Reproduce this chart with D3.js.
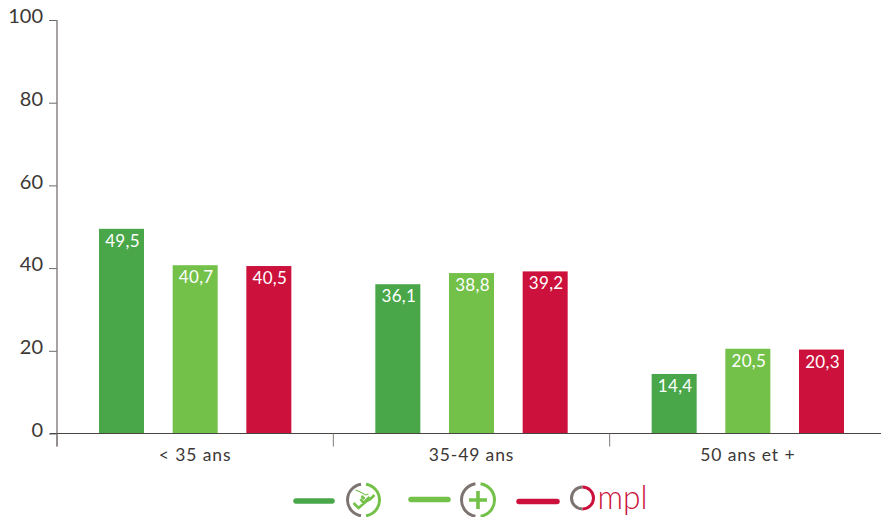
<!DOCTYPE html>
<html><head><meta charset="utf-8">
<script src="https://cdn.jsdelivr.net/npm/d3@7/dist/d3.min.js"></script>
<style>html,body{margin:0;background:#fff}svg{display:block}text{font-family:Lato,sans-serif}</style>
</head><body><svg id="c" width="881" height="517"></svg>
<script>
const categories = ["< 35 ans", "35-49 ans", "50 ans et +"];
const seriesNames = ["Fauteuil", "Plus", "Ompl"];
const seriesColors = ["#49a74a", "#74c14a", "#cc123c"];
const serie1 = [49.5, 36.1, 14.4];
const serie2 = [40.7, 38.8, 20.5];
const serie3 = [40.5, 39.2, 20.3];
const yTicks = [0, 20, 40, 60, 80, 100];
const allSeries = [serie1, serie2, serie3];

const svg = d3.select("#c");
const y = d3.scaleLinear().domain([0, 100]).range([433.5, 20]);
const x0 = d3.scaleBand().domain(categories).range([57, 886]);
const x1 = d3.scaleBand().domain(seriesNames).range([0, x0.step()]).paddingInner(0.389).paddingOuter(0.57);
const fmt = v => v.toFixed(1).replace(".", ",");

// bars
categories.forEach((c, i) => {
  const g = svg.append("g").attr("transform", `translate(${x0(c)},0)`);
  seriesNames.forEach((s, k) => {
    const v = allSeries[k][i];
    g.append("rect").attr("x", x1(s)).attr("y", y(v)).attr("width", x1.bandwidth())
      .attr("height", y(0) - y(v)).attr("fill", seriesColors[k]);
    g.append("text").attr("x", x1(s) + x1.bandwidth() / 2 + 1).attr("y", y(v) + 18)
      .attr("text-anchor", "middle").attr("fill", "#fff").attr("font-size", 17)
      .attr("letter-spacing", 0.3).text(fmt(v));
  });
});

// y axis
const yAxis = svg.append("g").attr("transform", "translate(57,0)")
  .call(d3.axisLeft(y).tickValues(yTicks).tickSize(8).tickPadding(6).tickFormat(d3.format("d")));
yAxis.select(".domain").remove();
yAxis.selectAll("line").attr("stroke", "#6f6a68").attr("stroke-width", 1);
yAxis.selectAll("text").attr("font-size", 20).attr("fill", "#3c3836").attr("dy", "0.14em").attr("font-family", "Lato");
yAxis.append("line").attr("y1", 20).attr("y2", 446.5).attr("stroke", "#807b79").attr("stroke-width", 1.4);

// x axis
const xAxisLine = svg.append("g");
xAxisLine.append("line").attr("x1", 50).attr("x2", 881).attr("y1", y(0)).attr("y2", y(0)).attr("stroke", "#4a4543").attr("stroke-width", 1.2);
categories.forEach(c => {
  xAxisLine.append("line").attr("x1", x0(c)).attr("x2", x0(c)).attr("y1", y(0)).attr("y2", 446.5)
    .attr("stroke", "#807b79").attr("stroke-width", 1);
  xAxisLine.append("text").attr("x", x0(c) + x0.bandwidth() / 2).attr("y", 461)
    .attr("text-anchor", "middle").attr("font-size", 17.5).attr("letter-spacing", 0.9).attr("fill", "#3c3836").text(c);
});

// legend
const legendY = [501, 499.5, 501.5];
const legendX = [[293, 335], [408, 451], [516, 560]];
seriesNames.forEach((s, k) => {
  svg.append("line").attr("x1", legendX[k][0] + 3).attr("x2", legendX[k][1] - 3)
    .attr("y1", legendY[k]).attr("y2", legendY[k]).attr("stroke", seriesColors[k])
    .attr("stroke-width", 5.5).attr("stroke-linecap", "round");
});
const arc = d3.arc();
function ring(cx, cy, r, w) {
  const g = svg.append("g").attr("transform", `translate(${cx},${cy})`);
  g.append("path").attr("fill", "#7d7370").attr("d", arc({innerRadius: r - w, outerRadius: r, startAngle: Math.PI * 1.05, endAngle: Math.PI * 1.95}));
  g.append("path").attr("fill", "#74c14a").attr("d", arc({innerRadius: r - w, outerRadius: r, startAngle: Math.PI * 0.05, endAngle: Math.PI * 0.95}));
  return g;
}
// icon 1 : armchair with a check
const g1 = ring(363.5, 500, 17.5, 3);
g1.append("path").attr("d", "M-10,3 L-5,8 L2,2 L7,-1 L11,-5 M-3,-1 L0,3 L3,0 L6,-3 M-2,-4 L1,-1")
  .attr("fill", "none").attr("stroke", "#74c14a").attr("stroke-width", 2.6);
g1.append("path").attr("d", "M-8,-10 L-3,-8 L2,-5 L5,-6")
  .attr("fill", "none").attr("stroke", "#74c14a").attr("stroke-width", 1.1);
// icon 2 : plus
const g2 = ring(478, 500, 18, 3);
g2.append("path").attr("d", "M-9,0 H9 M0,-9 V9").attr("stroke", "#74c14a").attr("stroke-width", 3.6).attr("fill", "none");
// Ompl logo
const g3 = svg.append("g").attr("transform", "translate(582.5,498)");
g3.append("path").attr("fill", "#7d7370").attr("d", arc({innerRadius: 9.5, outerRadius: 12.5, startAngle: Math.PI, endAngle: Math.PI * 2}));
g3.append("path").attr("fill", "#cc123c").attr("d", arc({innerRadius: 9.5, outerRadius: 12.5, startAngle: 0, endAngle: Math.PI}));
g3.append("text").attr("x", 15).attr("y", 11).attr("font-size", 33).attr("font-weight", 300).attr("fill", "#cc123c")
  .attr("textLength", 50).attr("lengthAdjust", "spacingAndGlyphs").text("mpl");
</script></body></html>
